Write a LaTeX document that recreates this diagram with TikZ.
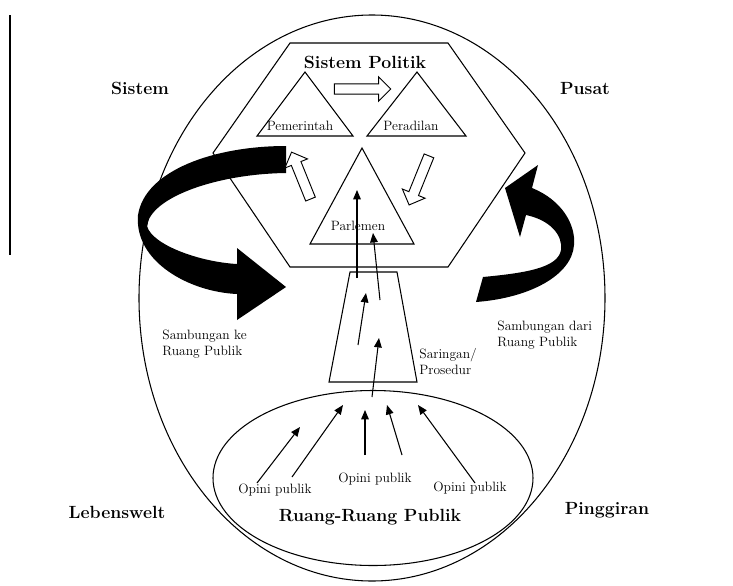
\documentclass[tikz,border=0pt]{standalone}
\usepackage{tikz}
\usetikzlibrary{arrows.meta,shapes.arrows}

\begin{document}
\begin{tikzpicture}[x=0.85pt,y=-0.85pt]
	\tikzstyle{line}=[line width=0.9pt]
	\tikzstyle{lbl}=[font=\fontsize{11.5}{13.6}\selectfont, inner sep=1pt]
	\tikzstyle{big}=[font=\fontsize{15}{17}\selectfont\bfseries, inner sep=1pt]
	\tikzstyle{hollow}=[draw, single arrow, single arrow head extend=6pt, inner sep=4pt, line width=0.8pt, fill=white]
	\tikzstyle{flow}=[line width=0.9pt, -{Triangle[length=8pt,width=6.5pt]}]

	\useasboundingbox (0,0) rectangle (733,585);
	\draw[line width=1.6pt] (10,15) -- (10,255);

	% spheres and frames
	\draw[line] (372,298) ellipse [x radius=233, y radius=283];
	\draw[line] (373,478) ellipse [x radius=160, y radius=87.5];
	\draw[line] (290,43) -- (448,43) -- (525,153) -- (448,267) -- (290,267) -- (213,153) -- cycle;
	\draw[line] (305,72) -- (353,136) -- (257,136) -- cycle;
	\draw[line] (417,72) -- (466,136) -- (367,136) -- cycle;
	\draw[line] (362,148) -- (414,244) -- (310,244) -- cycle;
	\draw[line] (350,272) -- (397,272) -- (417,382) -- (329,382) -- cycle;

	% black arrows
	\fill (286,146) .. controls (215,146) and (145,170) .. (138,215)
		.. controls (134,262) and (190,292) .. (237,294)
		-- (237,320) -- (286,287) -- (237,248) -- (237,264)
		.. controls (200,262) and (152,245) .. (147,226)
		.. controls (150,198) and (215,174) .. (286,173) -- cycle;
	\fill (505,188) -- (538,165) -- (532,188)
		.. controls (562,200) and (576,225) .. (574,245)
		.. controls (572,275) and (530,298) .. (476,302) -- (483,277)
		.. controls (525,273) and (558,268) .. (561,250)
		.. controls (563,235) and (550,220) .. (526,215) -- (520,237) -- cycle;

	% hollow arrows
	\node[hollow, minimum height=48pt] (mv1) at (360,89) {};
	\node[hollow, minimum height=43pt, rotate=112] (mv2) at (302,178) {};
	\node[hollow, minimum height=45pt, rotate=248] (mv3) at (420,178) {};

	% labels
	\draw node[big] at (365,62) (sp) {Sistem Politik};
	\draw node[lbl] at (300,126) (pem) {Pemerintah};
	\draw node[lbl] at (411,126) (per) {Peradilan};
	\draw node[lbl] at (358,226) (par) {Parlemen};
	\draw node[big] at (140,88) (sis) {Sistem};
	\draw node[big] at (585,88) (pus) {Pusat};
	\draw node[big] at (117,512) (leb) {Lebenswelt};
	\draw node[big] at (607,510) (pin) {Pinggiran};
	\draw node[big] at (370,517) (rrp) {Ruang-Ruang Publik};
	\draw node[lbl, anchor=west, align=left] at (161,344) (ske) {Sambungan ke\\Ruang Publik};
	\draw node[lbl, anchor=west, align=left] at (496,335) (sda) {Sambungan dari\\Ruang Publik};
	\draw node[lbl, anchor=west, align=left] at (418,361) (sar) {Saringan/\\Prosedur};
	\draw node[lbl] at (275,490) (op1) {Opini publik};
	\draw node[lbl] at (375,479) (op2) {Opini publik};
	\draw node[lbl] at (470,488) (op3) {Opini publik};

	% flow of opinion
	\coordinate (a1) at (257,483); \coordinate (b1) at (300,427);
	\coordinate (a2) at (292,477); \coordinate (b2) at (343,405);
	\coordinate (a3) at (365,455); \coordinate (b3) at (365,410);
	\coordinate (a4) at (402,455); \coordinate (b4) at (387,405);
	\coordinate (a5) at (475,483); \coordinate (b5) at (418,405);
	\coordinate (t1) at (372,397); \coordinate (h1) at (379,338);
	\coordinate (t2) at (358,345); \coordinate (h2) at (366,293);
	\coordinate (t3) at (380,300); \coordinate (h3) at (373,233);
	\coordinate (t4) at (357,278); \coordinate (h4) at (357,190);
	\foreach \i in {1,...,5}
		\draw[flow] (a\i) -- (b\i);
	\foreach \i in {1,...,4}
		\draw[flow] (t\i) -- (h\i);
\end{tikzpicture}
\end{document}
